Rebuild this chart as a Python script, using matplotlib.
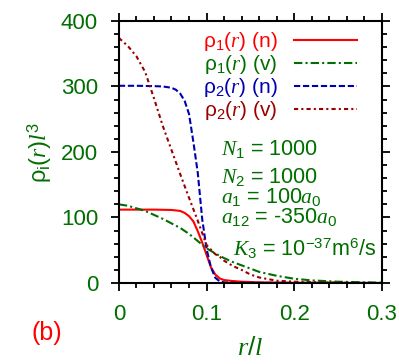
import matplotlib
matplotlib.use("Agg")
import matplotlib.pyplot as plt
from matplotlib.ticker import MultipleLocator

plt.rcParams['font.family'] = ['Liberation Sans', 'DejaVu Sans']
plt.rcParams['mathtext.fontset'] = 'custom'
plt.rcParams['mathtext.rm'] = 'Liberation Sans'
plt.rcParams['mathtext.it'] = 'Liberation Serif:italic'
plt.rcParams['mathtext.bf'] = 'Liberation Sans:bold'

# rho_1(r) (n)
r1n = [0, 0.02, 0.04, 0.06, 0.07, 0.075, 0.08, 0.085, 0.09, 0.095, 0.1,
       0.105, 0.11, 0.115, 0.12, 0.13, 0.14, 0.16, 0.2, 0.3]
rho1n = [112, 112, 112, 111.5, 110, 107, 102, 94, 79, 62, 43,
         24, 13, 7, 4.5, 3, 2, 1, 0.3, 0]

# rho_1(r) (v)
r1v = [0, 0.01, 0.02, 0.03, 0.04, 0.05, 0.06, 0.07, 0.08, 0.09, 0.1, 0.11,
       0.12, 0.13, 0.14, 0.15, 0.16, 0.18, 0.2, 0.22, 0.25, 0.3]
rho1v = [120, 118, 114, 110, 104, 98, 91, 84, 75, 64, 53, 45,
         38, 32, 27, 22, 17, 11, 6.5, 4, 2, 0.5]

# rho_2(r) (n)
r2n = [0, 0.02, 0.04, 0.05, 0.06, 0.065, 0.07, 0.075, 0.08, 0.085, 0.09,
       0.095, 0.1, 0.105, 0.11, 0.115, 0.12, 0.13, 0.3]
rho2n = [301, 301, 300.5, 300, 298, 295, 289, 278, 258, 215, 168,
         98, 52, 24, 8, 2.5, 1, 0.3, 0]

# rho_2(r) (v)
r2v = [0, 0.01, 0.02, 0.03, 0.04, 0.05, 0.06, 0.07, 0.08, 0.09, 0.1, 0.11,
       0.115, 0.12, 0.13, 0.14, 0.15, 0.16, 0.18, 0.2, 0.25, 0.3]
rho2v = [374, 362, 346, 322, 282, 240, 203, 166, 130, 95, 58, 44,
         40, 34, 26, 20, 13, 8.5, 3.5, 2, 0.5, 0]

xticks = [0, 0.1, 0.2, 0.3]
xticklabels = ['0', '0.1', '0.2', '0.3']

params = [r'$N_1$ = 1000', r'$N_2$ = 1000', r'$a_1$ = 100$a_0$',
          r'$a_{12}$ = -350$a_0$', r'$K_3$ = 10$^{-37}$m$^6$/s']

green = '#006e00'
red = '#ff0000'
blue = '#0000b0'
dred = '#9a0000'

fig = plt.figure(figsize=(3.99, 3.64), dpi=100)
ax = fig.add_axes([0.298, 0.2225, 0.659, 0.72])

ax.plot(r1n, rho1n, color=red, lw=1.5, label=r'ρ$_1$($r$) (n)')
ax.plot(r1v, rho1v, color=green, lw=1.5, dashes=(4, 1.5, 1, 1.5),
        label=r'ρ$_1$($r$) (v)')
ax.plot(r2n, rho2n, color=blue, lw=1.5, dashes=(3, 1.3),
        label=r'ρ$_2$($r$) (n)')
ax.plot(r2v, rho2v, color=dred, lw=1.5, dashes=(2, 1.5, 1, 1.5),
        label=r'ρ$_2$($r$) (v)')

ax.set_xlim(0, 0.3)
ax.set_ylim(0, 400)
ax.set_xticks(xticks)
ax.set_xticklabels(xticklabels)
ax.xaxis.set_minor_locator(MultipleLocator(0.02))
ax.yaxis.set_major_locator(MultipleLocator(100))
ax.yaxis.set_minor_locator(MultipleLocator(20))

for s in ax.spines.values():
    s.set_linewidth(1.5)
ax.tick_params(which='both', direction='out', top=True, right=True,
               width=1.3, colors='black', labelcolor=green, labelsize=16)
ax.tick_params(which='major', length=6, pad=9)
ax.tick_params(which='minor', length=3.5)

ax.set_xlabel(r'$r/l$', fontsize=19, color=green, labelpad=8)
ax.set_ylabel(r'ρ$_\mathrm{i}$($r$)$l^3$', fontsize=17, color=green, labelpad=5)

leg = ax.legend(loc='upper right', bbox_to_anchor=(0.94, 1.0),
                markerfirst=False, frameon=False,
                fontsize=15, labelcolor='linecolor', handlelength=3.0,
                labelspacing=0.0, borderaxespad=0.15, handletextpad=0.8,
                borderpad=0.3)

xpos = [0.39, 0.39, 0.39, 0.39, 0.433]
ypos = [0.51, 0.405, 0.328, 0.25, 0.13]
for txt, xx, yy in zip(params, xpos, ypos):
    ax.text(xx, yy, txt, transform=ax.transAxes, fontsize=15.5, color=green,
            va='center', ha='left')

fig.text(0.118, 0.085, '(b)', fontsize=18, color=red, ha='center', va='center')

fig.savefig('out.png', dpi=100)
